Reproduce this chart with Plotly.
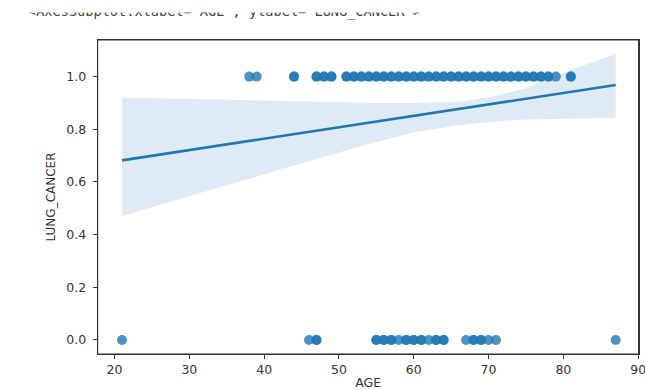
import plotly.graph_objects as go

# ---------------- data ----------------
yes_ages = [38, 39, 44, 47, 48, 49, 51, 52, 53, 54, 55, 56, 57, 58, 59, 60, 61, 62,
            63, 64, 65, 66, 67, 68, 69, 70, 71, 72, 73, 74, 75, 76, 77, 78, 79, 81]
yes_counts = [1, 1, 2, 2, 2, 2, 2, 2, 2, 2, 2, 2, 2, 2, 2, 2, 2, 2,
              2, 2, 2, 2, 2, 2, 2, 2, 2, 2, 2, 2, 2, 2, 2, 2, 1, 2]
no_ages = [21, 46, 47, 55, 56, 57, 58, 59, 60, 61, 62, 63, 64, 67, 68, 69, 70, 71, 87]
no_counts = [1, 1, 2, 2, 2, 2, 1, 2, 2, 2, 1, 2, 2, 1, 2, 2, 1, 1, 1]

reg_x = [21, 87]
reg_y = [0.682, 0.968]

ci_x = [21, 30, 40, 50, 55, 60, 66, 70, 75, 80, 87]
ci_upper = [0.921, 0.915, 0.909, 0.903, 0.900, 0.900, 0.905, 0.922, 0.955, 1.015, 1.087]
ci_lower = [0.471, 0.546, 0.628, 0.712, 0.752, 0.788, 0.815, 0.828, 0.837, 0.840, 0.843]

x_ticks = [20, 30, 40, 50, 60, 70, 80, 90]
y_ticks = [0.0, 0.2, 0.4, 0.6, 0.8, 1.0]
y_ticktext = ["0.0", "0.2", "0.4", "0.6", "0.8", "1.0"]

header_text = "<AxesSubplot:xlabel='AGE', ylabel='LUNG_CANCER'>"

# ---------------- figure ----------------
W, H = 645, 390
BLUE = "#1f77b4"
AX = "#333333"
FONT = "DejaVu Sans"

def expand(vals, counts):
    out = []
    for v, c in zip(vals, counts):
        out += [v] * c
    return out

yes_x = expand(yes_ages, yes_counts)
no_x = expand(no_ages, no_counts)

fig = go.Figure()

fig.add_trace(go.Scatter(
    x=yes_x + no_x,
    y=[1.0] * len(yes_x) + [0.0] * len(no_x),
    mode="markers",
    marker=dict(color=BLUE, size=10, opacity=0.8, line=dict(width=0)),
    showlegend=False, hoverinfo="skip",
))

fig.add_trace(go.Scatter(
    x=ci_x + ci_x[::-1],
    y=ci_upper + ci_lower[::-1],
    fill="toself", fillcolor="rgba(31,119,180,0.15)",
    line=dict(width=0), mode="lines",
    showlegend=False, hoverinfo="skip",
))

fig.add_trace(go.Scatter(
    x=reg_x, y=reg_y, mode="lines",
    line=dict(color=BLUE, width=2.6),
    showlegend=False, hoverinfo="skip",
))

# header output text, clipped like in the screenshot
fig.add_trace(go.Scatter(
    x=[28], y=[0], mode="text", text=[header_text],
    textposition="middle right",
    textfont=dict(family="DejaVu Sans Mono", size=13.6, color="#444"),
    cliponaxis=True, showlegend=False, hoverinfo="skip",
    xaxis="x2", yaxis="y2",
))

# axes frame
fig.add_shape(type="rect", xref="x domain", yref="y domain",
              x0=0, x1=1, y0=0, y1=1, line=dict(color=AX, width=1), layer="above")

fig.update_layout(
    width=W, height=H,
    margin=dict(l=0, r=0, t=0, b=0),
    paper_bgcolor="white", plot_bgcolor="white",
    font=dict(family=FONT, size=12, color=AX),
    xaxis=dict(
        domain=[97.7 / W, 638.5 / W], range=[17.75, 90.05],
        tickvals=x_ticks, ticks="outside", ticklen=4, tickwidth=1, tickcolor=AX,
        showline=True, mirror=True, linecolor=AX, linewidth=1,
        showgrid=False, zeroline=False, automargin=False,
        ticklabeloverflow="allow",
        tickfont=dict(family=FONT, size=12.5, color=AX),
        title=dict(text="AGE", font=dict(family=FONT, size=12.5, color=AX), standoff=4),
    ),
    yaxis=dict(
        domain=[1 - 354 / H, 1 - 40 / H], range=[-0.0532, 1.139],
        tickvals=y_ticks, ticktext=y_ticktext,
        ticks="outside", ticklen=4, tickwidth=1, tickcolor=AX,
        showline=True, mirror=True, linecolor=AX, linewidth=1,
        showgrid=False, zeroline=False, automargin=False,
        tickfont=dict(family=FONT, size=12.5, color=AX),
        ticklabelstandoff=4,
        title=dict(text="LUNG_CANCER", font=dict(family=FONT, size=12, color=AX), standoff=8),
    ),
    xaxis2=dict(domain=[0, 1], range=[0, W], visible=False, anchor="y2"),
    yaxis2=dict(domain=[1 - 20 / H, 1 - 12.5 / H], range=[-1, 0.07], visible=False, anchor="x2"),
)

fig.write_html(
    "out.html",
    config={"displayModeBar": False},
    post_script="document.body.style.margin='0px';document.body.style.overflow='hidden';",
)
